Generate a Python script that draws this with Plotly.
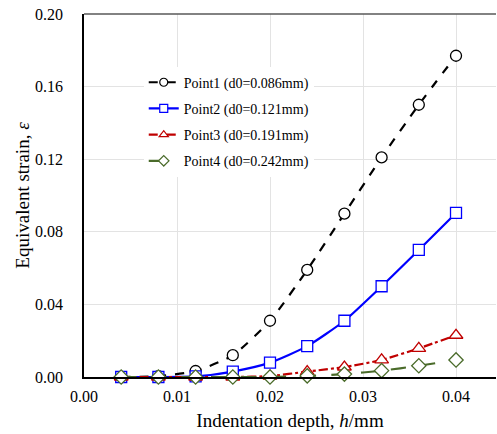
import plotly.graph_objects as go

depth = [0.004, 0.008, 0.012, 0.016, 0.020, 0.024, 0.028, 0.032, 0.036, 0.040]
point1 = [0.0, 0.0005, 0.0033, 0.012, 0.031, 0.059, 0.090, 0.121, 0.150, 0.177]
point2 = [0.0, 0.0, 0.0003, 0.003, 0.0079, 0.017, 0.031, 0.050, 0.070, 0.0904]
point3 = [0.0, 0.0, 0.0, 0.0, 0.0005, 0.003, 0.0055, 0.0094, 0.0158, 0.023]
point4 = [0.0, 0.0, 0.0, 0.0, 0.0, 0.0006, 0.0016, 0.0035, 0.0062, 0.0094]
names = ["Point1 (d0=0.086mm)", "Point2 (d0=0.121mm)",
         "Point3 (d0=0.191mm)", "Point4 (d0=0.242mm)"]
xticks = [0.00, 0.01, 0.02, 0.03, 0.04]
yticks = [0.00, 0.04, 0.08, 0.12, 0.16, 0.20]

styles = [
    dict(color="black", dash="dash", symbol="circle", size=11),
    dict(color="#0000ff", dash="solid", symbol="square", size=11),
    dict(color="#c00000", dash="dashdot", symbol="triangle-up", size=12),
    dict(color="#4a6b2a", dash="longdash", symbol="diamond", size=11),
]
series = [point1, point2, point3, point4]

fig = go.Figure()
for i, (name, ys, st) in enumerate(zip(names, series, styles)):
    fig.add_trace(go.Scatter(
        x=depth, y=ys, name=name, mode="lines+markers", showlegend=False,
        cliponaxis=False,
        line=dict(color=st["color"], dash=st["dash"], width=2.2, shape="spline", smoothing=0.6),
        marker=dict(symbol=st["symbol"], size=st["size"], color="white",
                    line=dict(color=st["color"], width=1.3)),
    ))
# legend-only entries with smaller markers
for i, (name, st) in enumerate(zip(names, styles)):
    fig.add_trace(go.Scatter(
        x=[None], y=[None], name=name, mode="lines+markers",
        legendgroup=f"g{i}",
        line=dict(color=st["color"], dash=st["dash"], width=2.2),
        marker=dict(symbol=st["symbol"], size=8, color="white",
                    line=dict(color=st["color"], width=1.2)),
    ))

font_family = "Liberation Serif, Times New Roman, serif"
fig.update_layout(
    width=497, height=434,
    margin=dict(l=84, r=1, t=14, b=57),
    plot_bgcolor="white", paper_bgcolor="white",
    font=dict(family=font_family, size=16, color="black"),
    showlegend=True,
    legend=dict(x=0.145, y=0.855, xanchor="left", yanchor="top",
                bgcolor="rgba(255,255,255,1)", borderwidth=0,
                font=dict(family=font_family, size=14, color="black"),
                tracegroupgap=5, itemwidth=30),
    xaxis=dict(range=[0, 0.0443], tickvals=xticks,
               ticktext=[f"{v:.2f}" for v in xticks],
               showgrid=True, gridcolor="#e3e3e3", gridwidth=1,
               showline=True, linecolor="black", linewidth=1.5,
               ticks="outside", ticklen=4, tickcolor="rgba(0,0,0,0)", zeroline=False,
               title=dict(text="Indentation depth, <i>h</i>/mm",
                          font=dict(family=font_family, size=19), standoff=10)),
    yaxis=dict(range=[0, 0.20], tickvals=yticks,
               ticktext=[f"{v:.2f}" for v in yticks],
               showgrid=True, gridcolor="#e3e3e3", gridwidth=1,
               showline=True, linecolor="black", linewidth=1.5,
               ticks="outside", ticklen=16, tickcolor="rgba(0,0,0,0)", zeroline=False,
               title=dict(text="Equivalent strain, <i>ε</i>",
                          font=dict(family=font_family, size=19), standoff=0)),
)
fig.add_shape(type="line", xref="paper", yref="paper", x0=0, x1=1, y0=1, y1=1,
              line=dict(color="#595959", width=1.5))
fig.write_html("out.html")
